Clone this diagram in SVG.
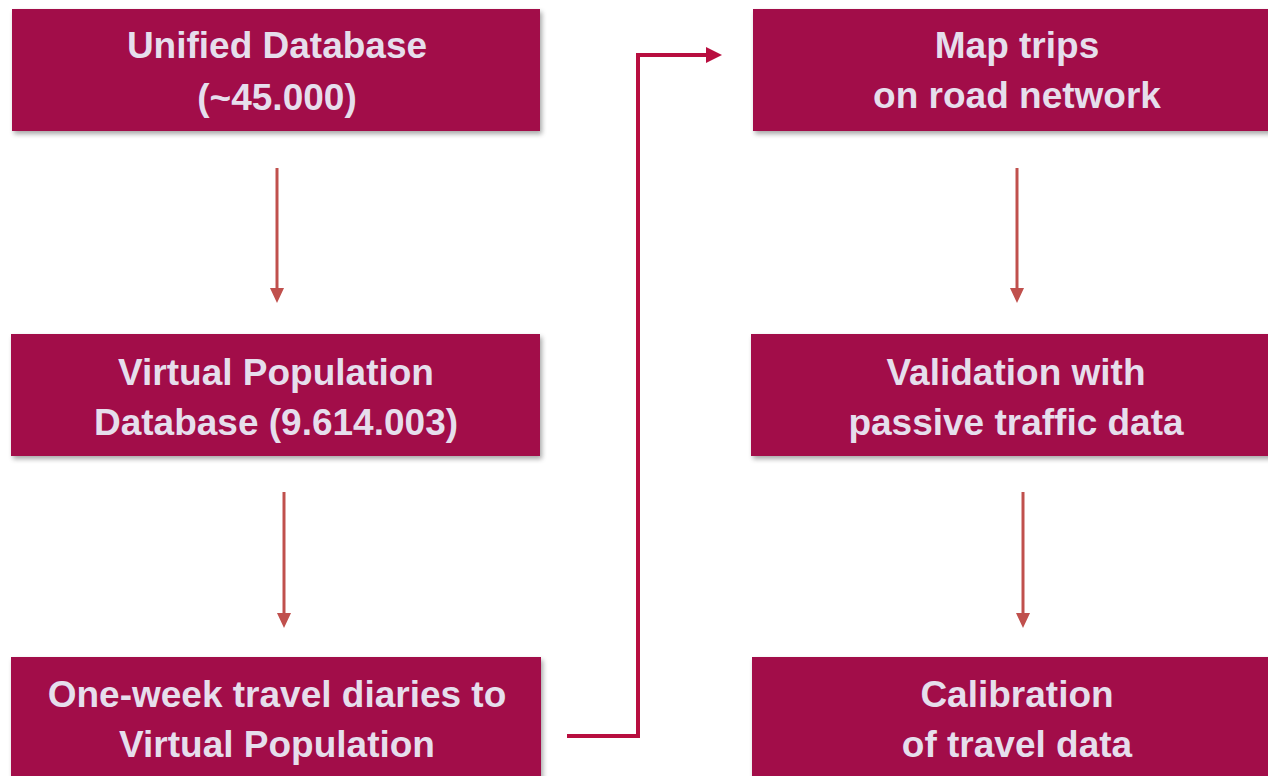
<svg xmlns="http://www.w3.org/2000/svg" width="1268" height="776" viewBox="0 0 1268 776">
<style>
.box{fill:#A20C48;filter:url(#sh)}
.t{font-family:"Liberation Sans",Arial,sans-serif;font-weight:bold;font-size:37px;fill:#E6DEEC;text-anchor:middle}
.arr{stroke:#C0504D;stroke-width:3}
.ah{fill:#C0504D}
</style>
<defs>
<filter id="sh" x="-5%" y="-10%" width="115%" height="130%">
<feGaussianBlur in="SourceAlpha" stdDeviation="2.5"/>
<feOffset dx="2" dy="3" result="b"/>
<feComponentTransfer><feFuncA type="linear" slope="0.35"/></feComponentTransfer>
<feMerge><feMergeNode/><feMergeNode in="SourceGraphic"/></feMerge>
</filter>
</defs>
<g id="connectors">
<line class="arr" x1="277" y1="168" x2="277" y2="288"/>
<path class="ah" d="M270,288 L284,288 L277,303 Z"/>
<line class="arr" x1="284" y1="492" x2="284" y2="613"/>
<path class="ah" d="M277,613 L291,613 L284,628 Z"/>
<line class="arr" x1="1017" y1="168" x2="1017" y2="288"/>
<path class="ah" d="M1010,288 L1024,288 L1017,303 Z"/>
<line class="arr" x1="1023" y1="492" x2="1023" y2="613"/>
<path class="ah" d="M1016,613 L1030,613 L1023,628 Z"/>
<path d="M567,736 L638,736 L638,55 L707,55" stroke="#B80E3F" stroke-width="4" fill="none"/>
<path d="M706,47 L722,55 L706,63 Z" fill="#B80E3F"/>
</g>
<g id="n1"><rect class="box" x="12" y="9" width="528" height="122"/>
<text class="t" x="277" y="58">Unified Database</text><text class="t" x="277" y="110">(~45.000)</text></g>
<g id="n2"><rect class="box" x="11" y="334" width="529" height="122"/>
<text class="t" x="276" y="385">Virtual Population</text><text class="t" x="276" y="435">Database (9.614.003)</text></g>
<g id="n3"><rect class="box" x="11" y="657" width="530" height="130"/>
<text class="t" x="277" y="707">One-week travel diaries to</text><text class="t" x="277" y="757">Virtual Population</text></g>
<g id="n4"><rect class="box" x="753" y="9" width="528" height="122"/>
<text class="t" x="1017" y="58">Map trips</text><text class="t" x="1017" y="108">on road network</text></g>
<g id="n5"><rect class="box" x="751" y="334" width="530" height="122"/>
<text class="t" x="1016" y="385">Validation with</text><text class="t" x="1016" y="435">passive traffic data</text></g>
<g id="n6"><rect class="box" x="752" y="657" width="530" height="130"/>
<text class="t" x="1017" y="707">Calibration</text><text class="t" x="1017" y="757">of travel data</text></g>
</svg>
